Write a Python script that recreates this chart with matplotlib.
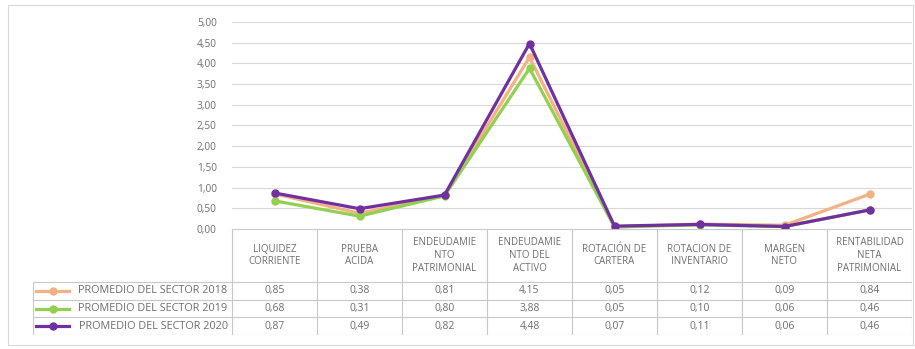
#!/usr/bin/env python3

import matplotlib
matplotlib.use('Agg')
import matplotlib.pyplot as plt
from matplotlib.patches import Rectangle

# Chart data.
categories = [
    "LIQUIDEZ\nCORRIENTE",
    "PRUEBA\nACIDA",
    "ENDEUDAMIE\nNTO\nPATRIMONIAL",
    "ENDEUDAMIE\nNTO DEL\nACTIVO",
    "ROTACIÓN DE\nCARTERA",
    "ROTACION DE\nINVENTARIO",
    "MARGEN\nNETO",
    "RENTABILIDAD\nNETA\nPATRIMONIAL",
]
series_names = [
    "PROMEDIO DEL SECTOR 2018",
    "PROMEDIO DEL SECTOR 2019",
    "PROMEDIO DEL SECTOR 2020",
]
values_2018 = [0.85, 0.38, 0.81, 4.15, 0.05, 0.12, 0.09, 0.84]
values_2019 = [0.68, 0.31, 0.80, 3.88, 0.05, 0.10, 0.06, 0.46]
values_2020 = [0.87, 0.49, 0.82, 4.48, 0.07, 0.11, 0.06, 0.46]
y_ticks = [0.0, 0.5, 1.0, 1.5, 2.0, 2.5, 3.0, 3.5, 4.0, 4.5, 5.0]

COLORS = ['#F4B183', '#92D050', '#7030A0']
TEXT = '#6E6E6E'
GRID = '#D9D9D9'
LINE = '#C8C8C8'

W, H = 915, 349
plt.rcParams['font.family'] = ['Open Sans', 'DejaVu Sans']


def fmt(v):
    return f"{v:.2f}".replace('.', ',')


def main():
    fig = plt.figure(figsize=(W / 100, H / 100), dpi=100)

    # Outer chart frame.
    fig.patches.append(Rectangle((8 / W, 4 / H), 905 / W, 340 / H,
                                 transform=fig.transFigure, fill=False,
                                 edgecolor=GRID, lw=0.8))

    # Line plot area.
    ax = fig.add_axes([232 / W, 1 - 229 / H, 680 / W, 207 / H])
    series = [values_2018, values_2019, values_2020]
    x = list(range(len(categories)))
    for i, vals in enumerate(series):
        ax.plot(x, vals, color=COLORS[i], lw=2.3, marker='o', ms=5,
                zorder=3 + i)
    ax.set_xlim(-0.5, len(categories) - 0.5)
    ax.set_ylim(0, 5)
    ax.set_yticks(y_ticks)
    ax.set_yticklabels([fmt(t) for t in y_ticks])
    ax.tick_params(axis='y', length=0, pad=11, labelsize=7.3,
                   labelcolor=TEXT)
    ax.set_xticks([])
    ax.grid(axis='y', color=GRID, lw=0.8)
    ax.set_axisbelow(True)
    for s in ax.spines.values():
        s.set_visible(False)

    # Data table below the plot.
    tax = fig.add_axes([33 / W, 1 - 335 / H, 879 / W, 106 / H])
    left = len(categories) - 0.5 - 879 / 85
    tax.set_xlim(left, len(categories) - 0.5)
    tax.set_ylim(106, 0)
    tax.axis('off')

    head_h = 53
    row_h = 53 / 3
    right = len(categories) - 0.5

    # Header cells.
    tax.plot([-0.5, right], [0, 0], color=LINE, lw=0.8)
    for i in range(len(categories) + 1):
        tax.plot([i - 0.5, i - 0.5], [0, 106], color=LINE, lw=0.8)
    for i, cat in enumerate(categories):
        tax.text(i, head_h / 2, cat, ha='center', va='center',
                 fontsize=7, color=TEXT, linespacing=1.25)

    # Body rows.
    for r in range(4):
        y = head_h + r * row_h
        tax.plot([left, right], [y, y], color=LINE, lw=0.8)
    tax.plot([left, left], [head_h, 106], color=LINE, lw=0.8)

    for r, vals in enumerate(series):
        yc = head_h + (r + 0.5) * row_h
        tax.plot([left + 0.04, left + 0.42], [yc, yc],
                 color=COLORS[r], lw=2.3)
        tax.plot([left + 0.23], [yc], color=COLORS[r], marker='o', ms=5)
        tax.text(-0.55, yc, series_names[r], ha='right', va='center',
                 fontsize=7.8, color=TEXT)
        for i, v in enumerate(vals):
            tax.text(i, yc, fmt(v), ha='center', va='center',
                     fontsize=7.5, color=TEXT)

    fig.savefig('out.png', dpi=100)


if __name__ == '__main__':
    main()
